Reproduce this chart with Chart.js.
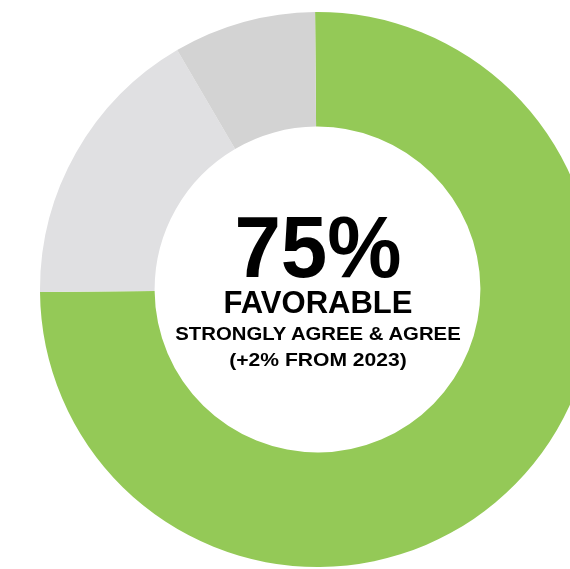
<!DOCTYPE html>
<html>
<head>
<meta charset="utf-8">
<script src="https://cdn.jsdelivr.net/npm/chart.js@4/dist/chart.umd.min.js"></script>
<style>
  html, body { margin: 0; padding: 0; width: 570px; height: 569px; overflow: hidden; background: #fff; }
  #wrap { position: absolute; left: 40px; top: 12px; width: 555px; height: 555px; }
  #c { display: block; }
  .t { position: absolute; left: 0; width: 636px; text-align: center; white-space: nowrap;
       font-family: "Liberation Sans", Arial, Helvetica, sans-serif; font-weight: bold; color: #000; }
</style>
</head>
<body>
<div id="wrap"><canvas id="c" width="555" height="555" style="width:555px;height:555px"></canvas></div>
<div class="t" id="l1" style="font-size:87px;line-height:87px;top:203px;transform:scaleX(0.96)"></div>
<div class="t" id="l2" style="font-size:31px;line-height:31px;top:287px;transform:scaleX(1.0)"></div>
<div class="t" id="l3" style="font-size:19px;line-height:19px;top:324px;transform:scaleX(1.07)"></div>
<div class="t" id="l4" style="font-size:19px;line-height:19px;top:350px;transform:scaleX(1.11)"></div>
<script>
const categories = ["Favorable", "Neutral", "Unfavorable"];
const values = [75, 16.7, 8.3];
const colors = ["#94C957", "#E0E0E2", "#D3D3D3"];
const centerLines = ["75%", "FAVORABLE", "STRONGLY AGREE & AGREE", "(+2% FROM 2023)"];

centerLines.forEach((s, i) => { document.getElementById("l" + (i + 1)).textContent = s; });

new Chart(document.getElementById("c"), {
  type: "doughnut",
  data: {
    labels: categories,
    datasets: [{ data: values, backgroundColor: colors, borderWidth: 0 }]
  },
  options: {
    responsive: false,
    animation: false,
    devicePixelRatio: 1,
    rotation: -0.5,
    cutout: "58.7%",
    layout: { padding: 0 },
    plugins: { legend: { display: false }, tooltip: { enabled: false } }
  }
});
</script>
</body>
</html>
